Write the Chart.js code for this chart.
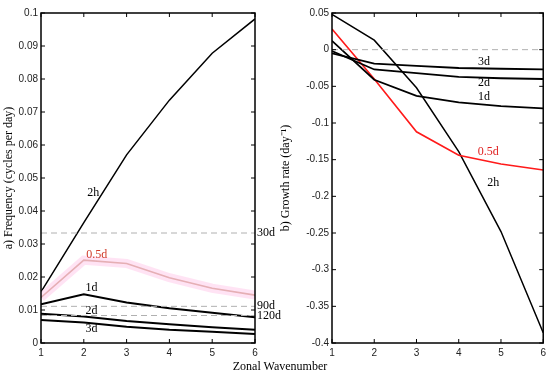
<!DOCTYPE html>
<html>
<head>
<meta charset="utf-8">
<script src="https://cdn.jsdelivr.net/npm/chart.js@4"></script>
<style>
  body{ margin:0; background:#fff; width:550px; height:377px; position:relative; overflow:hidden; }
  canvas{ position:absolute; top:0; }
  #cvA{ left:0; }
  #cvB{ left:275px; }
  #xTitle{ position:absolute; left:0; width:560px; top:359px; text-align:center; font:12px "Liberation Serif", serif; color:#000; }
</style>
</head>
<body>
<canvas id="cvA" width="290" height="377"></canvas>
<canvas id="cvB" width="275" height="377"></canvas>
<div id="xTitle">Zonal Wavenumber</div>
<script>
// zonal wavenumbers
const waveNums = [1,2,3,4,5,6];

// a) frequency (cycles per day)
const freq2h  = [0.0155,0.0365,0.0570,0.0736,0.0878,0.0982];
const freq05d = [0.0138,0.0251,0.0241,0.0198,0.0166,0.0145];
const freq1d  = [0.0117,0.0148,0.0123,0.0105,0.0092,0.0078];
const freq2d  = [0.0089,0.0080,0.0067,0.0057,0.0048,0.0040];
const freq3d  = [0.0070,0.0062,0.0049,0.0040,0.0034,0.0027];
const periodRefs = [ ['30d',1/30], ['90d',1/90], ['120d',1/120] ];

// b) growth rate (day^-1)
const grow2h  = [0.048,0.013,-0.052,-0.139,-0.248,-0.386];
const grow05d = [0.028,-0.040,-0.112,-0.144,-0.156,-0.164];
const grow1d  = [0.012,-0.041,-0.063,-0.072,-0.077,-0.080];
const grow2d  = [-0.002,-0.027,-0.032,-0.037,-0.039,-0.040];
const grow3d  = [-0.005,-0.019,-0.022,-0.025,-0.026,-0.027];

// curve labels in data coords
const labelsA = [['2h',2.22,0.0455,'#000'],['0.5d',2.3,0.0268,'#d03a2a'],['1d',2.18,0.0168,'#000'],['2d',2.18,0.0098,'#000'],['3d',2.18,0.0043,'#000']];
const labelsB = [['3d',4.6,-0.016,'#000'],['2d',4.6,-0.045,'#000'],['1d',4.6,-0.064,'#000'],['0.5d',4.7,-0.140,'#e02020'],['2h',4.82,-0.182,'#000']];

const pts = ys => ys.map((y,i)=>({x:waveNums[i], y}));
function line(data, color, width, extra){
  return Object.assign({ data: pts(data), borderColor: color, borderWidth: width, pointRadius: 0, tension: 0, fill:false }, extra||{});
}
function hline(y, color){
  return { data:[{x:1,y},{x:6,y}], borderColor:color, borderWidth:1, borderDash:[6,4], pointRadius:0 };
}

// MATLAB-ish frame with inward ticks + text labels
function framePlugin(labels, rightLabels){
  return {
    id:'frame',
    afterDatasetsDraw(chart){
      const {ctx, chartArea:a, scales:{x,y}} = chart;
      ctx.save();
      ctx.strokeStyle = '#000'; ctx.lineWidth = 1.5;
      ctx.strokeRect(a.left, a.top, a.right-a.left, a.bottom-a.top);
      ctx.lineWidth = 1;
      ctx.beginPath();
      x.ticks.forEach(t=>{ const px=x.getPixelForValue(t.value);
        ctx.moveTo(px,a.bottom); ctx.lineTo(px,a.bottom-4);
        ctx.moveTo(px,a.top); ctx.lineTo(px,a.top+4); });
      y.ticks.forEach(t=>{ const py=y.getPixelForValue(t.value);
        ctx.moveTo(a.left,py); ctx.lineTo(a.left+4,py);
        ctx.moveTo(a.right,py); ctx.lineTo(a.right-4,py); });
      ctx.stroke();
      ctx.font = '12px "Liberation Serif", serif';
      ctx.textAlign = 'center'; ctx.textBaseline = 'middle';
      labels.forEach(([t,vx,vy,c])=>{ ctx.fillStyle=c; ctx.fillText(t, x.getPixelForValue(vx), y.getPixelForValue(vy)); });
      ctx.textAlign = 'left'; ctx.fillStyle = '#000';
      (rightLabels||[]).forEach(([t,vy])=>{ ctx.fillText(t, a.right+2, y.getPixelForValue(vy)); });
      ctx.restore();
    }
  };
}

function axes(ymin, ymax, step, yTitle, yWidth, fmt){
  return {
    x:{ type:'linear', min:1, max:6, grid:{display:false, drawTicks:false}, border:{display:false},
        ticks:{ stepSize:1, padding:4, color:'#222', font:{family:'"Liberation Sans", Arial', size:10} },
        afterFit(s){ s.height = 34; } },
    y:{ min:ymin, max:ymax, grid:{display:false, drawTicks:false}, border:{display:false},
        ticks:{ stepSize:step, padding:3, color:'#222', font:{family:'"Liberation Sans", Arial', size:10}, callback: fmt },
        title:{ display:true, text:yTitle, color:'#000', padding:{top:0,bottom:0}, font:{family:'"Liberation Serif", serif', size:12} },
        afterFit(s){ s.width = yWidth; } }
  };
}
const baseOpts = { responsive:false, animation:false, devicePixelRatio:1, plugins:{legend:{display:false}, tooltip:{enabled:false}} };

new Chart(document.getElementById('cvA'), {
  type:'line',
  data:{ datasets:[
    ...periodRefs.map(r=>hline(r[1], '#b0b0b0')),
    line(freq05d, 'rgba(255,215,240,0.7)', 9),
    line(freq3d, '#000', 2),
    line(freq2d, '#000', 2),
    line(freq1d, '#000', 2),
    line(freq05d, '#a8502a', 1.6),
    line(freq2h, '#000', 1.5)
  ]},
  options: Object.assign({}, baseOpts, {
    layout:{ padding:{ top:13, right:35, left:2, bottom:0 } },
    scales: axes(0, 0.1, 0.01, 'a) Frequency (cycles per day)', 39, v => +v.toFixed(2))
  }),
  plugins:[ framePlugin(labelsA, periodRefs) ]
});

new Chart(document.getElementById('cvB'), {
  type:'line',
  data:{ datasets:[
    hline(0, '#b0b0b0'),
    line(grow3d, '#000', 1.8),
    line(grow2d, '#000', 1.8),
    line(grow1d, '#000', 1.8),
    line(grow05d, '#ff1a1a', 1.6),
    line(grow2h, '#000', 1.5)
  ]},
  options: Object.assign({}, baseOpts, {
    layout:{ padding:{ top:13, right:6, left:4, bottom:0 } },
    scales: axes(-0.4, 0.05, 0.05, 'b) Growth rate (day⁻¹)', 53, v => +v.toFixed(2))
  }),
  plugins:[ framePlugin(labelsB) ]
});
</script>
</body>
</html>
